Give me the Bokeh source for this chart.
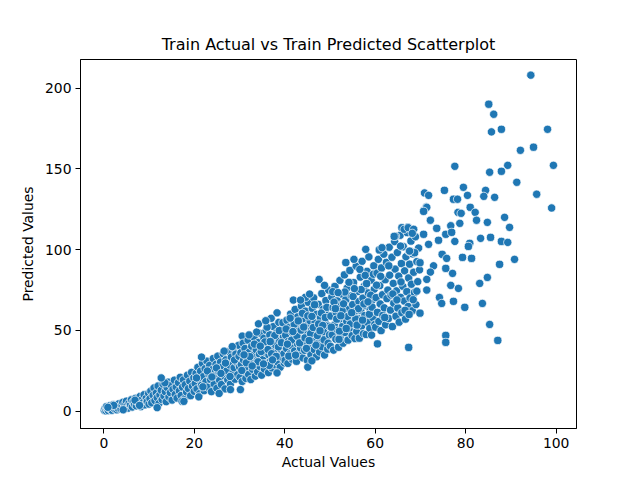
from bokeh.plotting import figure
from bokeh.models import ColumnDataSource, Range1d, FixedTicker
from bokeh.embed import file_html
from bokeh.resources import INLINE

# (actual, predicted) pairs
low_band = [
    (0.1, 0.6), (0.3, 1.8), (0.5, 0.2), (0.6, 2.9), (0.8, 1.1), (1.0, 0.4), (1.2, 2.2), (1.4, 3.5),
    (1.5, 1.0), (1.8, 0.6), (2.0, 2.6), (2.1, 4.1), (2.4, 1.5), (2.7, 3.2), (2.9, 0.9), (3.1, 2.0),
    (3.3, 4.6), (3.6, 2.9), (3.8, 1.4), (4.0, 3.8), (4.2, 5.5), (4.5, 2.3), (4.7, 4.4), (5.0, 6.2),
    (5.1, 3.1), (5.4, 1.9), (5.6, 5.0), (5.9, 3.9), (6.1, 7.1), (6.3, 2.6), (6.5, 5.8), (6.8, 4.2),
    (7.0, 8.0), (7.2, 3.3), (7.5, 6.4), (7.7, 4.9), (8.0, 9.1), (8.2, 2.8), (8.4, 7.0), (8.7, 5.3),
    (8.9, 10.2), (9.1, 3.9), (9.4, 8.1), (9.6, 6.0), (9.9, 11.0), (10.0, 4.4), (2.2, 3.6), (0.9, 2.4),
    (4.3, 0.9), (6.9, 6.8), (7.9, 3.6),
    (10.2, 7.8), (10.4, 12.5), (10.6, 5.2), (10.9, 9.9), (11.1, 14.4), (11.3, 6.6), (11.6, 11.3),
    (11.8, 8.4), (12.0, 15.6), (12.2, 4.8), (12.4, 10.1), (12.7, 13.0), (12.9, 7.2), (13.1, 16.8),
    (13.3, 9.4), (13.6, 12.1), (13.8, 5.9), (14.0, 14.7), (14.2, 18.0), (14.4, 8.8), (14.7, 11.5),
    (14.9, 16.1), (15.1, 6.9), (15.3, 13.6), (15.6, 19.2), (15.8, 10.4), (16.0, 15.0), (16.2, 8.1),
    (16.5, 17.7), (16.7, 12.6), (16.9, 21.0), (17.1, 9.7), (17.4, 14.9), (17.6, 19.4), (17.8, 7.6),
    (18.0, 16.4), (18.3, 11.9), (18.5, 22.3), (18.7, 14.0), (19.0, 18.6), (19.2, 9.6), (19.4, 24.0),
    (19.6, 15.5), (19.9, 20.7), (20.0, 12.3), (17.3, 6.2), (17.7, 6.1), (13.5, 17.6), (11.8, 2.2),
    (12.7, 20.6),
]

mid_band = [
    (20.2, 17.1), (20.4, 23.5), (20.6, 13.8), (20.8, 27.2), (21.0, 19.9), (21.2, 10.9), (21.4, 24.8),
    (21.6, 16.0), (21.8, 29.6), (22.0, 21.4), (22.2, 12.7), (22.4, 26.3), (22.6, 18.3), (22.8, 31.0),
    (23.0, 14.9), (23.2, 23.2), (23.4, 28.4), (23.6, 19.6), (23.8, 12.1), (24.0, 25.7), (24.2, 32.6),
    (24.4, 16.8), (24.6, 21.9), (24.8, 29.0), (25.0, 14.2), (25.2, 34.1), (25.4, 24.6), (25.6, 19.1),
    (25.8, 30.4), (26.0, 16.5), (26.2, 27.3), (26.4, 35.6), (26.6, 22.0), (26.8, 13.8), (27.0, 31.8),
    (27.2, 25.0), (27.4, 19.4), (27.6, 37.0), (27.8, 28.6), (28.0, 16.9), (28.2, 33.5), (28.4, 23.1),
    (28.6, 39.2), (28.8, 26.9), (29.0, 19.8), (29.2, 35.4), (29.4, 30.2), (29.6, 22.6), (29.8, 40.8),
    (30.0, 27.5), (20.5, 20.6), (21.9, 15.1), (22.9, 24.9), (23.9, 21.2), (24.9, 26.8), (25.9, 23.4),
    (26.9, 29.8), (27.9, 21.5), (28.9, 31.7), (29.9, 34.0), (28.4, 40.0), (26.6, 37.2), (28.0, 13.4),
    (30.2, 13.4), (21.0, 8.9), (21.6, 33.5), (30.6, 46.5), (25.5, 11.0),
    (30.1, 21.0), (30.3, 36.2), (30.4, 28.9), (30.6, 18.4), (30.8, 42.1), (30.9, 31.6), (31.1, 24.7),
    (31.2, 38.8), (31.4, 20.3), (31.6, 33.4), (31.7, 27.0), (31.9, 44.0), (32.0, 22.8), (32.2, 36.7),
    (32.4, 30.1), (32.5, 19.6), (32.7, 40.2), (32.9, 25.9), (33.0, 34.5), (33.2, 45.8), (33.4, 28.3),
    (33.5, 21.7), (33.7, 38.0), (33.9, 31.2), (34.0, 24.4), (34.2, 42.6), (34.4, 35.3), (34.5, 27.7),
    (34.7, 48.1), (34.9, 22.3), (35.0, 39.4), (35.2, 32.0), (35.4, 45.2), (35.5, 26.1), (35.7, 36.4),
    (35.9, 50.0), (36.0, 29.5), (36.2, 41.7), (36.4, 23.9), (36.5, 34.8), (36.7, 47.3), (36.9, 31.1),
    (37.0, 38.9), (37.2, 26.8), (37.4, 44.5), (37.5, 52.4), (37.7, 33.6), (37.9, 28.7), (38.0, 41.0),
    (38.2, 48.6), (38.4, 36.2), (38.5, 30.4), (38.7, 55.0), (38.9, 43.7), (39.0, 27.2), (39.2, 38.3),
    (39.4, 51.1), (39.5, 33.0), (39.7, 46.2), (39.9, 29.9), (30.5, 25.2), (31.5, 30.0), (32.3, 33.8),
    (33.3, 41.5), (34.1, 30.6), (34.8, 36.9), (35.6, 42.9), (36.3, 38.2), (37.1, 35.6), (37.8, 46.9),
    (38.6, 39.8), (39.3, 42.4), (39.8, 35.5), (31.0, 34.9), (32.8, 28.0), (34.6, 40.3), (36.6, 28.3),
    (38.1, 33.9), (39.6, 54.8), (33.8, 49.0), (35.3, 29.3), (36.8, 43.1), (37.3, 31.8), (38.8, 49.9),
    (34.2, 54.1), (38.3, 23.7), (32.1, 47.2), (36.1, 52.0), (38.3, 60.9), (37.0, 57.5), (35.8, 56.0),
]

upper_band = [
    (40.1, 31.5), (40.2, 47.0), (40.4, 38.8), (40.5, 56.3), (40.7, 29.6), (40.8, 43.2), (41.0, 52.0),
    (41.1, 35.4), (41.3, 60.1), (41.4, 40.6), (41.6, 48.9), (41.7, 32.2), (41.9, 55.5), (42.0, 44.4),
    (42.2, 37.3), (42.3, 63.0), (42.5, 50.7), (42.6, 30.9), (42.8, 41.8), (42.9, 58.4), (43.1, 35.9),
    (43.2, 47.6), (43.4, 53.8), (43.5, 39.2), (43.7, 65.2), (43.8, 44.9), (44.0, 33.0), (44.1, 57.1),
    (44.3, 49.5), (44.4, 37.7), (44.6, 61.9), (44.7, 42.5), (44.9, 52.9), (45.0, 31.6), (45.2, 67.4),
    (45.3, 46.1), (45.5, 39.5), (45.6, 56.0), (45.8, 35.1), (45.9, 50.3), (46.1, 63.6), (46.2, 43.3),
    (46.4, 70.2), (46.5, 38.2), (46.7, 54.6), (46.8, 47.8), (47.0, 33.7), (47.1, 60.0), (47.3, 42.0),
    (47.4, 66.1), (47.6, 51.2), (47.7, 36.6), (47.9, 57.7), (48.0, 45.5), (48.2, 72.8), (48.3, 39.9),
    (48.5, 63.1), (48.6, 49.0), (48.8, 34.8), (48.9, 55.2), (49.1, 68.5), (49.2, 43.9), (49.4, 59.6),
    (49.5, 38.4), (49.7, 75.0), (49.8, 52.6), (40.3, 50.9), (40.9, 34.1), (41.5, 44.0), (42.1, 53.9),
    (42.7, 46.5), (43.3, 42.3), (43.9, 60.6), (44.5, 45.4), (45.1, 59.0), (45.7, 48.0), (46.3, 51.8),
    (46.9, 40.9), (47.5, 54.0), (48.1, 60.8), (48.7, 44.2), (49.3, 64.3), (49.9, 47.2), (41.2, 57.6),
    (42.4, 34.7), (43.6, 50.2), (44.8, 38.9), (46.0, 58.7), (47.2, 46.8), (48.4, 53.1), (49.6, 42.1),
    (40.6, 41.5), (41.8, 49.3), (43.0, 55.9), (44.2, 52.1), (45.4, 43.7), (46.6, 65.9), (47.8, 49.8),
    (49.0, 58.0), (45.1, 27.3), (41.9, 68.8), (47.6, 81.6), (44.6, 70.5), (48.8, 77.9), (46.0, 31.2),
    (45.5, 72.5), (43.5, 68.8),
    (50.1, 40.2), (50.2, 58.9), (50.4, 70.6), (50.5, 47.3), (50.7, 64.1), (50.8, 37.8), (51.0, 53.5),
    (51.1, 77.2), (51.3, 44.6), (51.4, 61.0), (51.6, 68.3), (51.7, 50.1), (51.9, 39.6), (52.0, 56.7),
    (52.2, 81.0), (52.3, 46.2), (52.5, 65.8), (52.6, 72.5), (52.8, 52.4), (52.9, 42.1), (53.1, 60.3),
    (53.2, 84.4), (53.4, 48.7), (53.5, 69.0), (53.7, 55.6), (53.8, 76.3), (54.0, 44.0), (54.1, 63.2),
    (54.3, 51.0), (54.4, 87.1), (54.6, 58.1), (54.7, 71.4), (54.9, 46.8), (55.0, 66.0), (55.2, 79.6),
    (55.3, 53.9), (55.5, 45.0), (55.6, 61.7), (55.8, 89.8), (55.9, 49.4), (56.1, 74.1), (56.2, 57.3),
    (56.4, 68.0), (56.5, 45.2), (56.7, 83.0), (56.8, 62.5), (57.0, 52.7), (57.1, 92.8), (57.3, 70.0),
    (57.4, 48.0), (57.6, 77.4), (57.7, 59.2), (57.9, 65.3), (58.0, 47.5), (58.2, 86.6), (58.3, 55.0),
    (58.5, 73.2), (58.6, 95.5), (58.8, 51.3), (58.9, 62.8), (59.1, 81.1), (59.2, 47.1), (59.4, 68.9),
    (59.5, 57.8), (59.7, 90.0), (59.8, 75.6), (50.3, 52.0), (50.9, 67.5), (51.5, 57.0), (52.1, 49.5),
    (52.7, 62.0), (53.3, 73.8), (53.9, 58.6), (54.5, 54.0), (55.1, 71.0), (55.7, 57.0), (56.3, 63.5),
    (56.9, 75.3), (57.5, 66.4), (58.1, 79.0), (58.7, 60.0), (59.3, 64.4), (59.9, 53.7), (50.6, 74.0),
    (51.8, 73.4), (53.0, 66.5), (54.2, 79.8), (55.4, 75.9), (56.6, 87.8), (57.8, 84.1), (59.0, 71.8),
    (51.2, 63.5), (52.4, 59.1), (53.6, 51.2), (54.8, 61.0), (56.0, 53.3), (57.2, 56.4), (58.4, 67.7),
    (59.6, 84.8), (57.9, 100.2), (60.5, 41.7), (55.3, 94.0), (53.5, 92.0), (52.0, 44.5),
]

top_band = [
    (60.1, 52.0), (60.2, 70.3), (60.4, 85.5), (60.5, 61.2), (60.7, 94.0), (60.8, 55.6), (61.0, 77.8),
    (61.1, 66.4), (61.3, 49.9), (61.4, 88.7), (61.6, 72.1), (61.7, 59.3), (61.9, 97.2), (62.0, 64.0),
    (62.2, 81.4), (62.3, 53.5), (62.5, 92.1), (62.6, 69.7), (62.8, 75.0), (62.9, 57.4), (63.1, 101.5),
    (63.2, 84.2), (63.4, 62.6), (63.5, 71.9), (63.7, 95.3), (63.8, 52.4), (64.0, 79.1), (64.1, 66.8),
    (64.3, 105.0), (64.4, 88.0), (64.6, 58.8), (64.7, 74.5), (64.9, 98.2), (65.0, 63.9), (65.2, 83.6),
    (65.3, 55.1), (65.5, 108.9), (65.6, 70.5), (65.8, 91.4), (65.9, 61.0), (66.1, 77.3), (66.2, 101.8),
    (66.4, 68.2), (66.5, 86.9), (66.7, 57.0), (66.8, 95.6), (67.0, 74.0), (67.1, 110.6), (67.3, 64.8),
    (67.4, 82.5), (67.6, 91.0), (67.7, 70.1), (67.9, 105.3), (68.0, 78.6), (68.2, 62.2), (68.3, 97.4),
    (68.5, 86.0), (68.7, 73.4), (68.9, 108.0), (69.0, 66.0), (69.2, 92.6), (69.4, 80.2), (69.6, 101.0),
    (69.8, 87.5), (60.3, 78.0), (61.2, 83.5), (62.1, 58.0), (63.0, 90.0), (63.9, 72.6), (64.8, 68.9),
    (65.7, 80.0), (66.6, 62.4), (67.5, 99.0), (68.4, 69.0), (60.9, 99.8), (61.5, 101.2), (65.9, 113.6),
    (67.2, 114.0), (68.5, 112.6), (64.5, 108.4), (65.6, 102.2), (67.8, 99.1), (70.8, 124.3), (71.3, 126.4),
]

scattered = [
    (94.4, 208.0), (85.1, 190.0), (86.2, 183.8), (85.7, 172.9), (87.9, 174.5), (98.1, 174.5),
    (92.1, 161.5), (95.0, 163.4), (77.6, 151.6), (85.3, 147.9), (87.9, 148.5), (89.3, 152.2),
    (99.4, 152.2), (91.3, 141.7), (95.7, 134.3), (99.0, 125.8), (70.9, 135.1), (71.8, 133.6),
    (75.3, 136.7), (79.5, 138.6), (80.4, 133.6), (77.3, 131.2), (78.2, 131.2), (84.4, 136.7),
    (84.0, 133.0), (86.4, 132.4), (71.4, 126.2), (70.7, 123.7), (81.0, 126.2), (82.1, 123.1),
    (78.3, 123.1), (79.0, 122.5), (72.2, 118.2), (82.4, 118.2), (88.6, 120.0), (84.8, 116.9),
    (78.7, 116.3), (89.7, 113.8), (73.6, 113.2), (76.7, 114.8), (75.6, 109.5), (76.9, 110.7),
    (74.0, 105.8), (77.6, 105.1), (83.3, 107.0), (85.5, 107.6), (87.9, 105.1), (89.3, 104.5),
    (80.9, 103.9), (80.6, 102.0), (71.8, 103.3), (70.7, 109.5), (66.4, 112.6), (67.3, 113.6),
    (68.5, 112.6), (64.2, 108.2), (68.2, 110.1), (74.8, 97.1), (75.8, 94.6), (79.3, 95.2),
    (81.3, 94.6), (87.5, 90.9), (90.8, 94.0), (72.9, 90.0), (75.6, 88.4), (77.1, 85.3),
    (84.8, 82.8), (83.1, 79.1), (76.7, 77.9), (78.4, 76.0), (74.2, 70.4), (74.7, 66.7),
    (77.3, 68.0), (79.8, 64.3), (83.7, 66.7), (85.3, 53.7), (75.6, 46.9), (75.6, 42.6),
    (87.1, 43.8), (67.4, 39.5), (71.4, 75.0), (72.2, 86.1), (69.9, 60.7), (67.5, 59.9),
    (69.2, 74.3), (71.4, 81.6), (69.9, 91.9), (68.7, 98.1), (67.6, 99.1),
]

points = low_band + mid_band + upper_band + top_band + scattered
source = ColumnDataSource(data=dict(
    actual=[a for a, _ in points],
    predicted=[b for _, b in points],
))

font = "DejaVu Sans"
p = figure(title="Train Actual vs Train Predicted Scatterplot",
           x_range=Range1d(-5.15, 104.5), y_range=Range1d(-10.7, 217.7),
           frame_width=496, frame_height=369,
           min_border_left=80, min_border_top=59, min_border_right=56, min_border_bottom=50,
           output_backend="svg", toolbar_location=None)

p.scatter(x="actual", y="predicted", source=source, size=8.3,
          fill_color="#1f77b4", line_color="white", line_width=0.7)

p.title.align = "center"
p.title.text_font = font
p.title.text_font_size = "16px"
p.title.text_font_style = "normal"
p.title.text_color = "black"
p.title.standoff = 12

p.xaxis.axis_label = "Actual Values"
p.yaxis.axis_label = "Predicted Values"
p.xaxis.ticker = FixedTicker(ticks=[0, 20, 40, 60, 80, 100])
p.yaxis.ticker = FixedTicker(ticks=[0, 50, 100, 150, 200])

for ax in (p.xaxis[0], p.yaxis[0]):
    ax.axis_label_text_font = font
    ax.axis_label_text_font_size = "13.9px"
    ax.axis_label_text_font_style = "normal"
    ax.axis_label_text_color = "black"
    ax.major_label_text_font = font
    ax.major_label_text_font_size = "13.9px"
    ax.major_label_text_color = "black"
    ax.axis_line_color = "black"
    ax.major_tick_line_color = "black"
    ax.major_tick_out = 5
    ax.major_tick_in = 0
    ax.minor_tick_line_color = None
    ax.major_label_standoff = 4

p.xaxis.axis_label_standoff = 3
p.yaxis.axis_label_standoff = 6

p.xgrid.grid_line_color = None
p.ygrid.grid_line_color = None
p.outline_line_color = "black"
p.outline_line_alpha = 1
p.outline_line_width = 1
p.background_fill_color = "white"
p.border_fill_color = "white"

open("out.html", "w").write(file_html(p, INLINE))
